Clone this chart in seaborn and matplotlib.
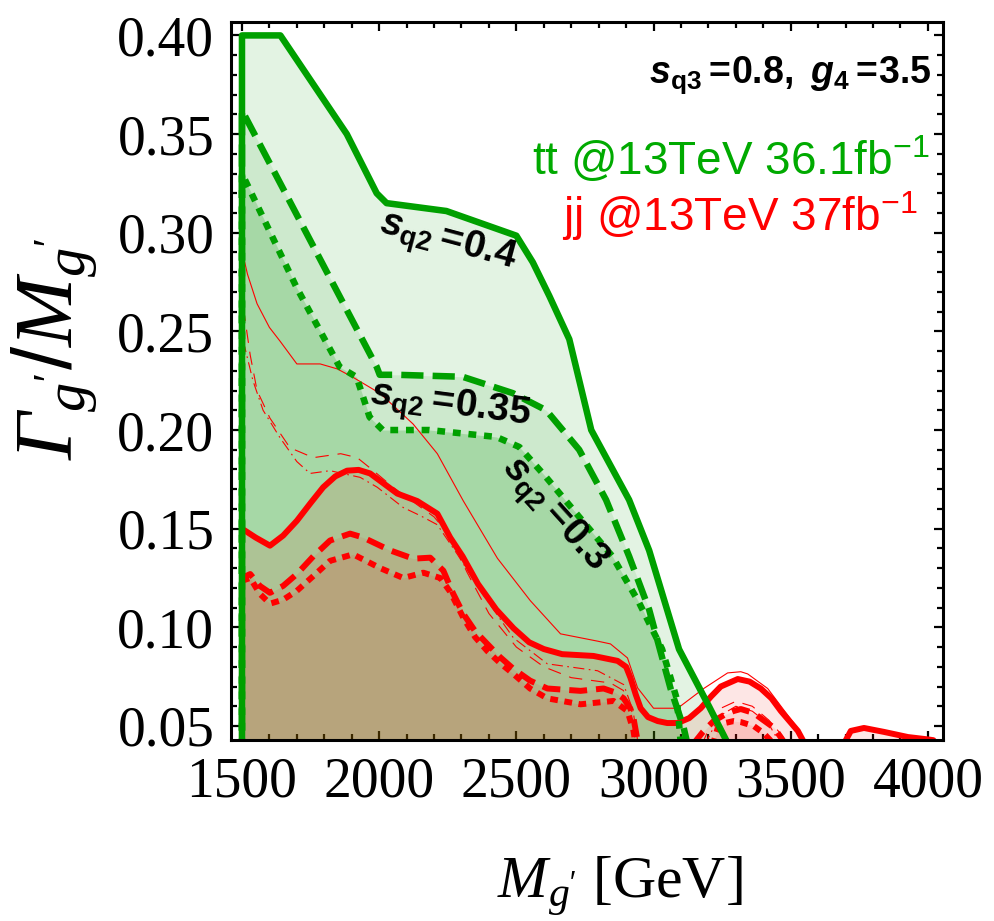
import matplotlib
matplotlib.use("Agg")
import matplotlib.pyplot as plt
import numpy as np
import pandas as pd
import seaborn as sns
from matplotlib.ticker import MultipleLocator, FormatStrFormatter

# ---------------- data ----------------
# tt exclusion boundaries (green)
m_tt_04 = [1500, 1500, 1640, 1882, 1991, 2027, 2245, 2500, 2560, 2620, 2693, 2773, 2911, 2984, 3093, 3202, 3275]
w_tt_04 = [0.00, 0.400, 0.400, 0.350, 0.320, 0.315, 0.311, 0.2985, 0.285, 0.268, 0.246, 0.200, 0.1646, 0.139, 0.0889, 0.060, 0.040]

m_tt_035 = [1500, 1500, 1736, 1991, 2002, 2064, 2304, 2487, 2609, 2729, 2827, 2911, 2984, 3062, 3110, 3125]
w_tt_035 = [0.00, 0.362, 0.2995, 0.232, 0.228, 0.228, 0.227, 0.2187, 0.210, 0.190, 0.1646, 0.136, 0.109, 0.069, 0.049, 0.040]

m_tt_03 = [1500, 1500, 1700, 1856, 1918, 1965, 2013, 2183, 2427, 2511, 2609, 2729, 2850, 2947, 3031, 3085, 3100]
w_tt_03 = [0.00, 0.330, 0.272, 0.232, 0.2268, 0.2066, 0.200, 0.200, 0.1965, 0.1914, 0.176, 0.156, 0.136, 0.1126, 0.089, 0.0636, 0.040]

# jj exclusion boundaries (red, thick)
m_jj_04 = [1500, 1500, 1550, 1602, 1650, 1700, 1750, 1796, 1840, 1883, 1925, 1967, 2066, 2139, 2212, 2259, 2304,
           2360, 2427, 2490, 2547, 2600, 2667, 2781, 2869, 2900, 2916, 2935, 2953, 2980, 3015, 3050, 3088, 3130,
           3172, 3210, 3245, 3307, 3350, 3391, 3430, 3464, 3526, 3555]
w_jj_04 = [0.00, 0.150, 0.1455, 0.1414, 0.1465, 0.154, 0.163, 0.171, 0.1765, 0.1794, 0.1798, 0.178, 0.1678, 0.164,
           0.1576, 0.1455, 0.136, 0.122, 0.109, 0.0995, 0.0924, 0.089, 0.0864, 0.0855, 0.083, 0.080, 0.0744, 0.066,
           0.059, 0.0545, 0.0525, 0.0515, 0.0515, 0.054, 0.059, 0.065, 0.070, 0.0738, 0.0725, 0.069, 0.064, 0.0576,
           0.0475, 0.040]
m_jj_04b = [3690, 3719, 3767, 3840, 3927, 4000, 4020]
w_jj_04b = [0.040, 0.0475, 0.049, 0.047, 0.0444, 0.0432, 0.0428]

m_jj_035 = [1500, 1500, 1530, 1565, 1602, 1650, 1700, 1760, 1821, 1894, 1942, 2040, 2124, 2186, 2234, 2270, 2307,
            2350, 2394, 2440, 2489, 2550, 2613, 2734, 2818, 2860, 2891, 2915, 2927, 2945]
w_jj_035 = [0.00, 0.125, 0.127, 0.121, 0.1175, 0.121, 0.127, 0.136, 0.144, 0.1475, 0.1455, 0.139, 0.1348, 0.1353,
            0.1287, 0.117, 0.1068, 0.098, 0.0916, 0.085, 0.079, 0.073, 0.069, 0.0678, 0.069, 0.067, 0.064, 0.059,
            0.054, 0.040]
m_jj_035b = [3140, 3180, 3219, 3260, 3292, 3318, 3365, 3400, 3440, 3485]
w_jj_035b = [0.040, 0.047, 0.0525, 0.0558, 0.0576, 0.0586, 0.0566, 0.053, 0.049, 0.040]

m_jj_03 = [1500, 1500, 1530, 1565, 1602, 1650, 1700, 1760, 1821, 1905, 2004, 2088, 2161, 2223, 2259, 2307, 2350,
           2394, 2440, 2489, 2550, 2613, 2734, 2854, 2905, 2927, 2935]
w_jj_03 = [0.00, 0.1236, 0.125, 0.117, 0.112, 0.114, 0.1185, 0.126, 0.1337, 0.137, 0.130, 0.125, 0.1277, 0.125,
           0.118, 0.1048, 0.095, 0.088, 0.082, 0.0764, 0.069, 0.064, 0.061, 0.0627, 0.0576, 0.0475, 0.040]
m_jj_03b = [3215, 3234, 3260, 3292, 3318, 3365, 3400, 3445]
w_jj_03b = [0.040, 0.049, 0.0515, 0.0525, 0.052, 0.050, 0.0465, 0.040]

# jj thin reference curves
m_thin_a = [1500, 1500, 1520, 1555, 1600, 1639, 1700, 1785, 1847, 1905, 2004, 2124, 2212, 2307, 2431, 2551, 2661,
            2796, 2843, 2905, 2942, 3000, 3088, 3183, 3270, 3318, 3343, 3416, 3470, 3530, 3560]
w_thin_a = [0.00, 0.291, 0.279, 0.264, 0.252, 0.245, 0.2335, 0.2335, 0.231, 0.2267, 0.2185, 0.203, 0.188, 0.164,
            0.135, 0.1135, 0.0967, 0.093, 0.0916, 0.0845, 0.0693, 0.059, 0.059, 0.069, 0.0769, 0.0775, 0.0764,
            0.069, 0.059, 0.048, 0.040]

m_thin_b = [1505, 1530, 1555, 1602, 1675, 1760, 1860, 1920, 1978, 2051, 2130, 2200, 2260, 2320, 2400, 2500, 2600,
            2700, 2843, 2890, 2920, 2940]
w_thin_b = [0.262, 0.238, 0.220, 0.206, 0.191, 0.186, 0.188, 0.186, 0.1795, 0.171, 0.163, 0.156, 0.146, 0.128,
            0.107, 0.090, 0.080, 0.0745, 0.0718, 0.068, 0.058, 0.040]
m_thin_b2 = [3175, 3230, 3300, 3360, 3420, 3470, 3490]
w_thin_b2 = [0.040, 0.058, 0.0625, 0.060, 0.053, 0.045, 0.040]

m_thin_c = [1505, 1540, 1577, 1639, 1700, 1748, 1821, 1931, 1993, 2088, 2150, 2212, 2285, 2369, 2489, 2613,
            2796, 2891, 2925, 2945]
w_thin_c = [0.245, 0.225, 0.210, 0.196, 0.184, 0.178, 0.1794, 0.176, 0.171, 0.1607, 0.1566, 0.152, 0.137,
            0.1185, 0.0947, 0.0815, 0.078, 0.071, 0.058, 0.040]
m_thin_c2 = [3185, 3240, 3300, 3360, 3420, 3465]
w_thin_c2 = [0.040, 0.055, 0.060, 0.0575, 0.051, 0.040]

x_ticks = [1500, 2000, 2500, 3000, 3500, 4000]
y_ticks = [0.05, 0.10, 0.15, 0.20, 0.25, 0.30, 0.35, 0.40]

label_params = (r"$\mathbfit{s}_{\mathbf{q3}}\mathbf{=}\!\mathbf{0.8,}\ "
                r"\mathbfit{g}_{\mathbf{4}}\mathbf{=}\!\mathbf{3.5}$")
label_tt = r"tt @13TeV 36.1fb$^{-1}$"
label_jj = r"jj @13TeV 37fb$^{-1}$"
curve_labels = [r"$\mathbfit{s}_{\mathbf{q2}}\mathbf{=}\!\mathbf{0.4}$",
                r"$\mathbfit{s}_{\mathbf{q2}}\mathbf{=}\!\mathbf{0.35}$",
                r"$\mathbfit{s}_{\mathbf{q2}}\mathbf{=}\!\mathbf{0.3}$"]
x_label = r"$\mathsf{M}_{\mathsf{g}^{\prime}}$ [GeV]"
y_label = r"$\mathsf{\Gamma}_{\mathsf{g}^{\prime}}\mathrm{/}\mathsf{M}_{\mathsf{g}^{\prime}}$"

# ---------------- style ----------------
sns.set_theme(style="ticks")
plt.rcParams.update({
    "font.family": ["Liberation Serif", "DejaVu Serif"],
    "mathtext.fontset": "custom",
    "mathtext.rm": "Liberation Sans",
    "mathtext.it": "Liberation Sans:italic",
    "mathtext.bf": "Liberation Sans:bold",
    "mathtext.bfit": "Liberation Sans:italic:bold",
    "mathtext.sf": "Liberation Serif:italic",
    "axes.edgecolor": "black",
    "axes.linewidth": 2.0,
})

GREEN = "#00a000"
GREEN_FILL = "#009200"
RED = "#ff0000"
RED_FILL = "#f01000"

W, H = 994, 921
fig = plt.figure(figsize=(W / 100, H / 100), dpi=100)
ax = fig.add_axes([231 / W, 1 - 740 / H, (943 - 231) / W, (740 - 22) / H])
ax.set_facecolor("white")

# ---------------- fills ----------------
ax.fill_between(m_tt_04, w_tt_04, 0, color=GREEN_FILL, alpha=0.11, lw=0, zorder=1)
ax.fill_between(m_tt_035, w_tt_035, 0, color=GREEN_FILL, alpha=0.095, lw=0, zorder=1)
ax.fill_between(m_tt_03, w_tt_03, 0, color=GREEN_FILL, alpha=0.19, lw=0, zorder=1)
for mx, wy, a in [(m_jj_04, w_jj_04, 0.10), (m_jj_04b, w_jj_04b, 0.10),
                  (m_jj_035, w_jj_035, 0.085), (m_jj_035b, w_jj_035b, 0.085),
                  (m_jj_03, w_jj_03, 0.085), (m_jj_03b, w_jj_03b, 0.085)]:
    ax.fill_between(mx, wy, 0, color=RED_FILL, alpha=a, lw=0, zorder=1)

# ---------------- lines (seaborn) ----------------
def line(mx, wy, color, lw, ls, z):
    sns.lineplot(x=mx, y=wy, ax=ax, sort=False, estimator=None, color=color,
                 linewidth=lw, linestyle=ls, zorder=z, dash_capstyle="butt",
                 solid_joinstyle="round", legend=False)

# green
line(m_tt_04, w_tt_04, GREEN, 4.7, "-", 7)
line(m_tt_035, w_tt_035, GREEN, 4.7, (0, (3.4, 1.4)), 7)
line(m_tt_03, w_tt_03, GREEN, 4.7, (0, (1.2, 1.2)), 7)
# thin red reference lines
line(m_thin_a, w_thin_a, RED, 0.8, "-", 5)
line(m_thin_b, w_thin_b, RED, 0.8, (0, (12, 8)), 5)
line(m_thin_b2, w_thin_b2, RED, 0.8, (0, (12, 8)), 5)
line(m_thin_c, w_thin_c, RED, 0.8, (0, (10, 4, 1.5, 4)), 5)
line(m_thin_c2, w_thin_c2, RED, 0.8, (0, (10, 4, 1.5, 4)), 5)
# thick red
line(m_jj_04, w_jj_04, RED, 4.3, "-", 6)
line(m_jj_04b, w_jj_04b, RED, 4.3, "-", 6)
line(m_jj_035, w_jj_035, RED, 4.3, (0, (3.0, 1.5)), 6)
line(m_jj_035b, w_jj_035b, RED, 4.3, (0, (3.0, 1.5)), 6)
line(m_jj_03, w_jj_03, RED, 4.3, (0, (1.3, 1.1)), 6)
line(m_jj_03b, w_jj_03b, RED, 4.3, (0, (1.3, 1.1)), 6)

# ---------------- axes ----------------
ax.set_xlim(1460, 4055)
ax.set_ylim(0.0429, 0.4068)
ax.set_xticks(x_ticks)
ax.set_yticks(y_ticks)
ax.xaxis.set_minor_locator(MultipleLocator(100))
ax.yaxis.set_minor_locator(MultipleLocator(0.01))
ax.yaxis.set_major_formatter(FormatStrFormatter("%.2f"))
ax.tick_params(which="both", direction="in", top=True, right=True, color="black", width=1.6)
ax.tick_params(which="major", length=6.5, labelsize=40, pad=12)
ax.tick_params(which="minor", length=4)
for lab in ax.get_xticklabels() + ax.get_yticklabels():
    lab.set_fontfamily("Liberation Serif")
    lab.set_color("black")
for s in ax.spines.values():
    s.set_color("black")
    s.set_linewidth(2.2)
    s.set_zorder(10)

ax.set_xlabel(x_label, fontsize=43, fontfamily="Liberation Serif", color="black")
ax.set_ylabel(y_label, fontsize=60, fontfamily="Liberation Serif", color="black")
ax.xaxis.set_label_coords(0.546, -0.16)
ax.yaxis.set_label_coords(-0.185, 0.545)

# ---------------- annotations ----------------
fig.text(932 / W, 1 - 75 / H, label_params, ha="right", va="center", fontsize=27, color="black")
fig.text(930 / W, 1 - 160 / H, label_tt, ha="right", va="center", fontsize=33,
         fontfamily="Liberation Sans", color="#00aa00")
fig.text(918 / W, 1 - 216 / H, label_jj, ha="right", va="center", fontsize=33,
         fontfamily="Liberation Sans", color=RED)

for txt, (px, py), rot in zip(curve_labels, [(448, 243), (450, 407), (553, 515)], [-15, -7.5, -48]):
    fig.text(px / W, 1 - py / H, txt, ha="center", va="center", rotation=rot,
             rotation_mode="anchor", fontsize=28, color="black", zorder=20)

fig.savefig("out.png", dpi=100)
